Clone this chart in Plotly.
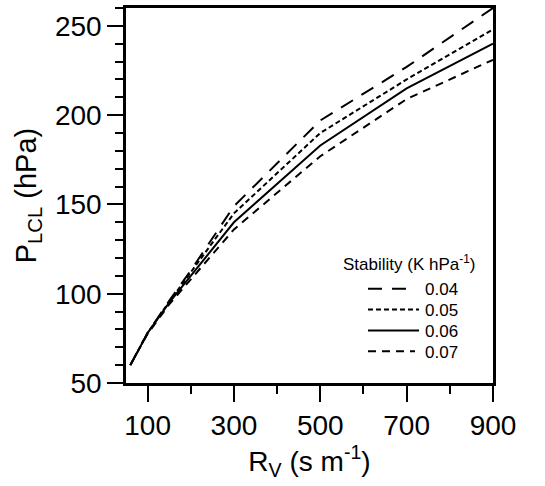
import plotly.graph_objects as go

# Data
rv = [60, 100, 150, 200, 300, 500, 700, 900]
p_004 = [60, 78, 96, 113, 149, 197, 227, 260]
p_005 = [60, 78, 95.5, 112, 145, 190, 220, 248]
p_006 = [60, 78, 95, 110, 140, 183, 215, 240]
p_007 = [60, 77.5, 94, 108, 136, 177, 209, 231]
stability_labels = ["0.04", "0.05", "0.06", "0.07"]

series = [p_004, p_005, p_006, p_007]
dash_styles = ["14px,10px", "5px,3px", "solid", "8px,6px"]

FONT = "Liberation Sans, Arial, sans-serif"

# plot area in pixels
L, R, T, B = 126, 493, 5, 383
W, H = 545, 486


def px_x(p):
    return (p - L) / (R - L)


def px_y(p):
    return (B - p) / (B - T)


fig = go.Figure()
for vals, lab, dsh in zip(series, stability_labels, dash_styles):
    fig.add_trace(go.Scatter(
        x=rv, y=vals, mode="lines", name=lab, showlegend=False,
        line=dict(color="black", width=2, dash=dsh),
    ))

# custom legend (title + samples) placed like the reference
annotations = [dict(
    text="Stability (K hPa<sup>-1</sup>)", x=px_x(409), y=px_y(262),
    xref="paper", yref="paper", xanchor="center", yanchor="middle",
    showarrow=False, font=dict(size=17, family=FONT, color="black"),
)]
shapes = []
row_y = [288, 309, 330, 351]
line_end = [415, 419, 419, 415]
for lab, dsh, ry, le in zip(stability_labels, dash_styles, row_y, line_end):
    shapes.append(dict(
        type="line", xref="paper", yref="paper",
        x0=px_x(368), x1=px_x(le), y0=px_y(ry), y1=px_y(ry),
        line=dict(color="black", width=2, dash=dsh),
    ))
    annotations.append(dict(
        text=lab, x=px_x(423), y=px_y(ry + 1),
        xref="paper", yref="paper", xanchor="left", yanchor="middle",
        showarrow=False, font=dict(size=17, family=FONT, color="black"),
    ))

fig.update_layout(
    width=W, height=H,
    margin=dict(l=L, r=W - R, t=T, b=H - B),
    paper_bgcolor="white", plot_bgcolor="white",
    font=dict(family=FONT, color="black", size=28),
    showlegend=False,
    annotations=annotations,
    shapes=shapes,
)

fig.update_xaxes(
    range=[50, 900], tick0=100, dtick=200,
    ticks="outside", ticklen=16, tickwidth=2, tickcolor="black",
    showline=True, linewidth=2.5, linecolor="black", mirror=True,
    showgrid=False, zeroline=False,
    tickfont=dict(size=28),
    minor=dict(tick0=100, dtick=100, ticks="outside", ticklen=8, tickwidth=2, tickcolor="black"),
    title=dict(text="R<sub>V</sub> (s m<sup>-1</sup>)", font=dict(size=28), standoff=4),
)
fig.update_yaxes(
    range=[50, 260], tick0=50, dtick=50,
    ticks="outside", ticklen=16, tickwidth=2, tickcolor="black",
    showline=True, linewidth=2.5, linecolor="black", mirror=True,
    showgrid=False, zeroline=False,
    tickfont=dict(size=28),
    minor=dict(tick0=50, dtick=10, ticks="outside", ticklen=8, tickwidth=2, tickcolor="black"),
    title=dict(text="P<sub>LCL</sub> (hPa)", font=dict(size=29), standoff=10),
)

fig.write_html("out.html")
